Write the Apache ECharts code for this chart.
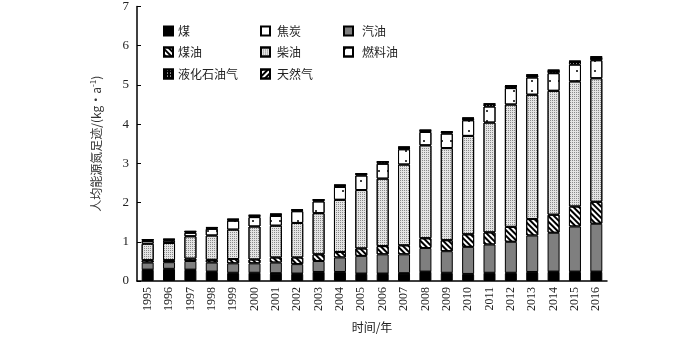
<!DOCTYPE html>
<html>
<head>
<meta charset="utf-8">
<script src="https://cdn.jsdelivr.net/npm/echarts@6/dist/echarts.min.js"></script>
<style>html,body{margin:0;padding:0;background:#fff}#c{width:700px;height:338px}</style>
</head>
<body>
<div id="c"></div>
<script>
// ---- data ----
const years = ['1995','1996','1997','1998','1999','2000','2001','2002','2003','2004','2005','2006','2007','2008','2009','2010','2011','2012','2013','2014','2015','2016'];
const seriesNames = ['煤','焦炭','汽油','煤油','柴油','燃料油','液化石油气','天然气'];
const coal      = [0.28,0.30,0.28,0.23,0.20,0.20,0.19,0.18,0.22,0.22,0.18,0.18,0.19,0.23,0.20,0.17,0.20,0.20,0.22,0.23,0.23,0.23];
const coke      = [0.01,0.01,0.01,0.01,0.01,0.01,0.01,0.01,0.01,0.01,0.01,0.01,0.01,0.01,0.01,0.01,0.01,0.01,0.01,0.01,0.01,0.01];
const gasoline  = [0.18,0.17,0.22,0.23,0.24,0.24,0.27,0.24,0.28,0.37,0.45,0.49,0.48,0.60,0.55,0.69,0.72,0.79,0.93,0.99,1.15,1.22];
const kerosene  = [0.06,0.05,0.06,0.07,0.11,0.10,0.13,0.17,0.17,0.14,0.19,0.21,0.23,0.25,0.28,0.32,0.31,0.38,0.42,0.46,0.51,0.56];
const diesel    = [0.42,0.44,0.57,0.62,0.75,0.84,0.81,0.88,1.05,1.33,1.49,1.72,2.06,2.37,2.35,2.51,2.80,3.12,3.17,3.16,3.19,3.15];
const fuelOil   = [0.07,0.06,0.09,0.17,0.23,0.24,0.25,0.30,0.30,0.33,0.37,0.38,0.39,0.34,0.37,0.40,0.41,0.42,0.44,0.45,0.43,0.46];
const lpg       = [0.03,0.03,0.03,0.03,0.03,0.04,0.04,0.03,0.04,0.04,0.04,0.05,0.05,0.04,0.04,0.05,0.06,0.06,0.06,0.07,0.08,0.08];
const naturalGas= [0.01,0.01,0.01,0.01,0.01,0.01,0.01,0.01,0.01,0.01,0.01,0.01,0.01,0.01,0.01,0.01,0.01,0.01,0.01,0.01,0.01,0.01];
const yTicks = [0,1,2,3,4,5,6,7];
const seriesData = [coal, coke, gasoline, kerosene, diesel, fuelOil, lpg, naturalGas];

// ---- styles ----
const fills = ['#000000','#ffffff','#7f7f7f','#ffffff','#e4e4e4','#ffffff','#000000','#ffffff'];
const decals = [
  null,
  null,
  null,
  {symbol:'rect', symbolSize:1, color:'#000', dashArrayX:[1,0], dashArrayY:[2,2], rotation:Math.PI/4},
  {symbol:'rect', symbolSize:1, color:'#8a8a8a', dashArrayX:[1,1], dashArrayY:[1,1], rotation:0},
  {symbol:'circle', symbolSize:1, color:'#000', dashArrayX:[2,7], dashArrayY:[2,8], rotation:0},
  {symbol:'rect', symbolSize:1, color:'#fff', dashArrayX:[1,2], dashArrayY:[1,2], rotation:0},
  {symbol:'rect', symbolSize:1, color:'#000', dashArrayX:[1,0], dashArrayY:[2,2], rotation:-Math.PI/4}
];
const legendPos = [[163,25],[260,25],[343,25],[163,46],[260,46],[343,46],[163,68],[260,68]];
const legendGap = [5,7,9,5,7,9,5,7];

const chart = echarts.init(document.getElementById('c'), null, {renderer:'canvas'});
const serif = 'Liberation Serif, Times New Roman, serif';
const cjk = 'Noto Sans CJK SC, sans-serif';

const legends = seriesNames.map((n,i)=>({
  data:[n], left:legendPos[i][0], top:legendPos[i][1],
  itemWidth:9, itemHeight:9, icon:'rect', selectedMode:false,
  textStyle:{fontFamily:cjk, fontSize:12, color:'#222', padding:[0,0,0,legendGap[i]-5]},
  padding:0
}));

chart.setOption({
  animation:false,
  backgroundColor:'#fff',
  legend: legends,
  grid:{left:137, right:93, top:6, bottom:56},
  xAxis:{
    type:'category', data:years,
    name:'时间/年', nameLocation:'middle', nameGap:40,
    nameTextStyle:{fontFamily:cjk, fontSize:12, color:'#222'},
    axisLine:{lineStyle:{color:'#000', width:1.5}},
    axisTick:{inside:true, length:4, lineStyle:{color:'#000'}},
    axisLabel:{rotate:90, fontFamily:serif, fontSize:12, color:'#222', margin:6}
  },
  yAxis:{
    type:'value', min:yTicks[0], max:yTicks[yTicks.length-1], interval:1,
    name:'人均能源氮足迹/(kg·a{sup|-1})', nameLocation:'middle', nameGap:34,
    nameTextStyle:{fontFamily:cjk, fontSize:12, color:'#333', rich:{sup:{fontSize:8, verticalAlign:'top', padding:[0,0,6,0]}}},
    axisLine:{show:true, lineStyle:{color:'#000', width:1.5}},
    axisTick:{show:true, inside:true, length:4, lineStyle:{color:'#000'}},
    splitLine:{show:false},
    axisLabel:{fontFamily:serif, fontSize:13, color:'#222', margin:8}
  },
  series: seriesNames.map((n,i)=>({
    name:n, type:'bar', stack:'total', data:seriesData[i], barWidth:12,
    itemStyle:Object.assign({color:fills[i], borderColor:'#000', borderWidth:1}, decals[i]?{decal:decals[i]}:{})
  }))
});
</script>
</body>
</html>
